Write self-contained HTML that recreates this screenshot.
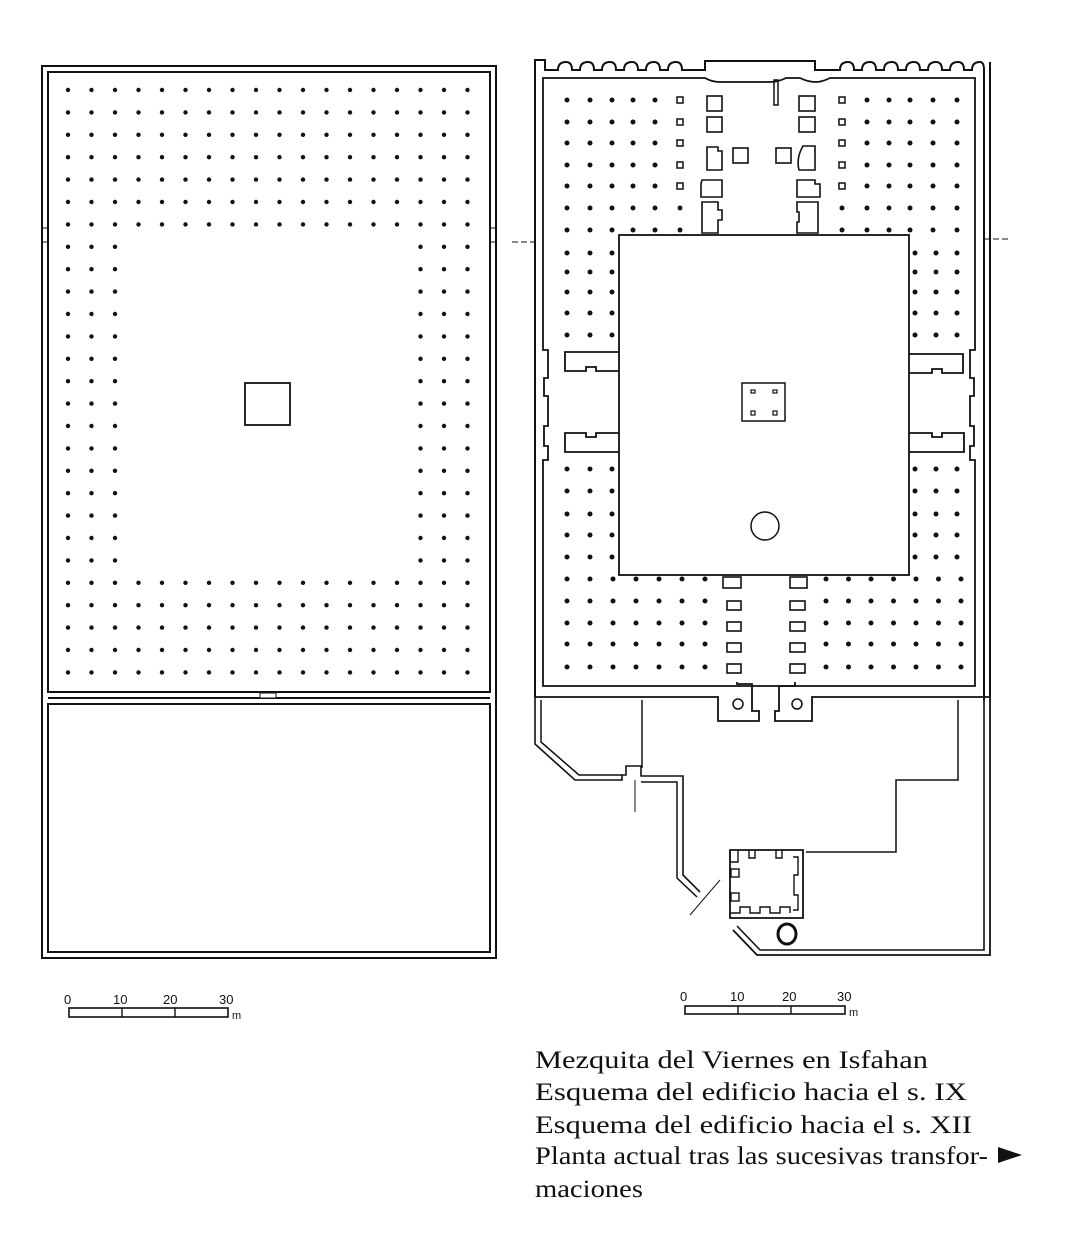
<!DOCTYPE html>
<html><head><meta charset="utf-8"><style>
html,body{margin:0;padding:0;background:#fff;}
svg{display:block;}
</style></head><body>
<svg id="s" width="1075" height="1250" viewBox="0 0 1075 1250" xmlns="http://www.w3.org/2000/svg" font-family="Liberation Serif, serif">
<g fill="none" stroke="#111" stroke-width="2">
<rect x="42" y="66" width="454" height="892"/>
<rect x="48" y="72" width="442" height="620"/>
<line x1="48" y1="698" x2="490" y2="698"/>
<rect x="48" y="704" width="442" height="248"/>
<line x1="42" y1="228" x2="48" y2="228" stroke-width="1"/>
<line x1="42" y1="242" x2="48" y2="242" stroke-width="1"/>
<line x1="490" y1="228" x2="496" y2="228" stroke-width="1"/>
<line x1="490" y1="242" x2="496" y2="242" stroke-width="1"/>
<rect x="245" y="383" width="45" height="42" stroke-width="1.8"/>
<rect x="260" y="693" width="16" height="5" stroke-width="1" fill="#fff"/>

<path d="M535 697 V60 H545 V70 H558 Q558 62 566 62 Q572 62 572 70 H580 Q580 62 588 62 Q594 62 594 70 H602 Q602 62 610 62 Q616 62 616 70 H624 Q624 62 632 62 Q638 62 638 70 H646 Q646 62 654 62 Q660 62 660 70 H668 Q668 62 676 62 Q682 62 682 70 H705 V61 H815 V70 H840 Q840 62 848 62 Q854 62 854 70 H862 Q862 62 870 62 Q876 62 876 70 H884 Q884 62 892 62 Q898 62 898 70 H906 Q906 62 914 62 Q920 62 920 70 H928 Q928 62 936 62 Q942 62 942 70 H950 Q950 62 958 62 Q964 62 964 70 H972 Q972 62 980 62 Q984 62 984 70 V 700"/>
<line x1="990" y1="62" x2="990" y2="697"/>
<path d="M543 78 H705 Q712 82 720 82 H770 Q778 82 786 78 H800 Q808 82 816 82 Q822 82 830 78 H975 V350 H970 V378 H974 V396 H970 V426 H974 V446 H970 V460 H975 V686 H543 V460 H548 V446 H544 V426 H548 V396 H544 V378 H548 V350 H543 Z" stroke-width="1.8"/>
<rect x="774" y="80" width="4" height="25" stroke-width="1.5"/>
<rect x="619" y="235" width="290" height="340" stroke-width="1.8" fill="#fff"/>
<rect x="742" y="383" width="43" height="38" stroke-width="1.5"/>
<rect x="751" y="390" width="4" height="3" stroke-width="1.2"/>
<rect x="773" y="390" width="4" height="3" stroke-width="1.2"/>
<rect x="751" y="411" width="4" height="4" stroke-width="1.2"/>
<rect x="773" y="411" width="4" height="4" stroke-width="1.2"/>
<circle cx="765" cy="526" r="14" stroke-width="1.5"/>
<path d="M619 352 H565 V371 H586 V367 H596 V371 H619" stroke-width="1.8"/>
<path d="M619 452 H565 V433 H586 V437 H596 V433 H619" stroke-width="1.8"/>
<path d="M909 354 H963 V373 H942 V369 H932 V373 H909" stroke-width="1.8"/>
<path d="M909 452 H964 V433 H942 V437 H932 V433 H909" stroke-width="1.8"/>
<rect x="707" y="96" width="15" height="15" stroke-width="1.6"/>
<rect x="707" y="117" width="15" height="15" stroke-width="1.6"/>
<path d="M707 147 H718 V151 H722 V170 H707 Z" stroke-width="1.6"/>
<rect x="733" y="148" width="15" height="15" stroke-width="1.6"/>
<path d="M702 180 H722 V197 H701 V184 Z" stroke-width="1.6"/>
<path d="M702 202 H718 V210 H722 V220 H718 V233 H702 Z" stroke-width="1.6"/>
<rect x="799" y="96" width="16" height="15" stroke-width="1.6"/>
<rect x="799" y="117" width="16" height="15" stroke-width="1.6"/>
<path d="M803 146 H815 V170 H799 Q796 158 803 146 Z" stroke-width="1.6"/>
<rect x="776" y="148" width="15" height="15" stroke-width="1.6"/>
<path d="M797 180 H815 V184 H820 V197 H797 Z" stroke-width="1.6"/>
<path d="M797 202 H818 V233 H797 V222 H799 V212 H797 Z" stroke-width="1.6"/>
<rect x="723" y="577" width="18" height="11" stroke-width="1.6"/>
<rect x="790" y="577" width="17" height="11" stroke-width="1.6"/>
<rect x="727" y="601" width="14" height="9" stroke-width="1.6"/>
<rect x="727" y="622" width="14" height="9" stroke-width="1.6"/>
<rect x="727" y="643" width="14" height="9" stroke-width="1.6"/>
<rect x="727" y="664" width="14" height="9" stroke-width="1.6"/>
<rect x="790" y="601" width="15" height="9" stroke-width="1.6"/>
<rect x="790" y="622" width="15" height="9" stroke-width="1.6"/>
<rect x="790" y="643" width="15" height="9" stroke-width="1.6"/>
<rect x="790" y="664" width="15" height="9" stroke-width="1.6"/>
<path d="M535 697 H718 V721 H759 V711 H752 V684 H737 V682" stroke-width="1.8"/>
<path d="M990 697 H812 V721 H775 V711 H779 V686 H795 V682" stroke-width="1.8"/>
<circle cx="738" cy="704" r="5" stroke-width="1.5"/>
<circle cx="797" cy="704" r="5" stroke-width="1.5"/>
<path d="M990 697 V955 H757 L733 930" stroke-width="1.8"/>
<path d="M984 700 V950 H760 L737 926" stroke-width="1.6"/>
<path d="M535 697 V744 L575 780 H622 V775 H626 V766 H641 V776 H683 V875 L700 892" stroke-width="1.6"/>
<path d="M541 700 V742 L579 775 H622" stroke-width="1.5"/>
<path d="M641 782 H677 V878 L697 897" stroke-width="1.5"/>
<line x1="642" y1="700" x2="642" y2="768" stroke-width="1.5"/>
<line x1="635" y1="780" x2="635" y2="812" stroke-width="1"/>
<line x1="720" y1="880" x2="690" y2="915" stroke-width="1"/>
<path d="M958 700 V780 H896 V852 H806" stroke-width="1.5"/>
<path d="M730 850 H803 V918 H730 Z" stroke-width="1.8"/>
<path d="M730 850 V862 H738 V850 M749 850 V858 H755 V850 M776 850 V858 H782 V850 M793 857 H798 V875 H794 V895 H798 V910 H793 M730 913 H740 V907 H750 V913 H760 V907 H770 V913 H780 V907 H790 V913" stroke-width="1.4"/>
<rect x="731" y="869" width="8" height="8" stroke-width="1.4"/>
<rect x="731" y="893" width="8" height="8" stroke-width="1.4"/>
<ellipse cx="787" cy="934" rx="9" ry="10" stroke-width="3"/>
<line x1="512" y1="242" x2="535" y2="242" stroke-width="1" stroke-dasharray="6,3"/>
<line x1="984" y1="239" x2="1010" y2="239" stroke-width="1" stroke-dasharray="6,3"/>
<rect x="69" y="1008" width="159" height="9" stroke-width="1.6"/>
<line x1="122" y1="1008" x2="122" y2="1017" stroke-width="1.4"/>
<line x1="175" y1="1008" x2="175" y2="1017" stroke-width="1.4"/>
<rect x="685" y="1006" width="160" height="8" stroke-width="1.6"/>
<line x1="738" y1="1006" x2="738" y2="1014" stroke-width="1.4"/>
<line x1="791" y1="1006" x2="791" y2="1014" stroke-width="1.4"/>
</g>
<g id="dots" fill="#111"></g>
<g font-family="Liberation Sans, sans-serif" font-size="13" fill="#111">
<text x="64" y="1004">0</text><text x="113" y="1004">10</text><text x="163" y="1004">20</text><text x="219" y="1004">30</text><text x="232" y="1019" font-size="11">m</text>
<text x="680" y="1001">0</text><text x="730" y="1001">10</text><text x="782" y="1001">20</text><text x="837" y="1001">30</text><text x="849" y="1016" font-size="11">m</text>
</g>
<g font-size="25" fill="#111">
<text x="535" y="1068" textLength="393" lengthAdjust="spacingAndGlyphs">Mezquita del Viernes en Isfahan</text>
<text x="535" y="1100" textLength="432" lengthAdjust="spacingAndGlyphs">Esquema del edificio hacia el s. IX</text>
<text x="535" y="1133" textLength="437" lengthAdjust="spacingAndGlyphs">Esquema del edificio hacia el s. XII</text>
<text x="535" y="1164" textLength="453" lengthAdjust="spacingAndGlyphs">Planta actual tras las sucesivas transfor-</text>
<text x="535" y="1197" textLength="108" lengthAdjust="spacingAndGlyphs">maciones</text>
</g>
<polygon points="998,1147 1022,1155 998,1163" fill="#111"/>
</svg>
<script>
var g=document.getElementById('dots'),ns='http://www.w3.org/2000/svg';
function d(x,y,r){var c=document.createElementNS(ns,'circle');c.setAttribute('cx',x);c.setAttribute('cy',y);c.setAttribute('r',r||2.2);g.appendChild(c);}
function sq(x,y){var c=document.createElementNS(ns,'rect');c.setAttribute('x',x-3);c.setAttribute('y',y-3);c.setAttribute('width',6);c.setAttribute('height',6);c.setAttribute('fill','none');c.setAttribute('stroke','#111');c.setAttribute('stroke-width','1.5');g.appendChild(c);}
for(var r=0;r<27;r++){var y=90+r*22.4;for(var c=0;c<18;c++){if(r>=7&&r<22&&c>=3&&c<15)continue;d(68+c*23.5,y);}}
var rows=[100,122,143,165,186,208,230];
var L=[567,590,612,633,655],R=[867,889,910,933,957];
rows.forEach(function(y,i){L.forEach(function(x){d(x,y,2.5);});R.forEach(function(x){d(x,y,2.5);});
 if(i<5){sq(680,y);sq(842,y);}else{d(680,y,2.5);d(842,y,2.5);}});
var sy=[253,272,292,313,335,469,491,514,535,557];
sy.forEach(function(y){[567,590,612].forEach(function(x){d(x,y,2.5);});[915,936,957].forEach(function(x){d(x,y,2.5);});});
[579,601,623,644,667].forEach(function(y){for(var i=0;i<7;i++){d(567+i*23,y,2.5);d(826+i*22.5,y,2.5);}});
</script>
</body></html>
